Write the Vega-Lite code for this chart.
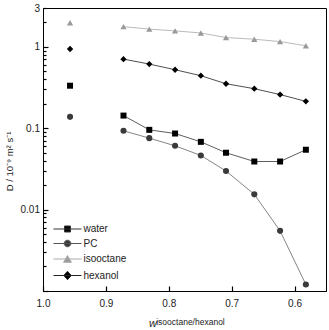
{
  "$schema": "https://vega.github.io/schema/vega-lite/v6.json",
  "autosize": "none",
  "width": 283,
  "height": 283,
  "padding": {"left": 43, "top": 8, "right": 3, "bottom": 39},
  "background": "#ffffff",
  "title": {"text": "w", "orient": "bottom", "anchor": "start", "frame": "group", "dx": 106, "dy": -12, "fontSize": 11, "fontStyle": "italic", "fontWeight": "normal", "font": "Arial, Liberation Sans, sans-serif", "color": "#222"},
  "config": {
    "view": {"stroke": "#000", "strokeWidth": 1},
    "font": "Arial, Liberation Sans, sans-serif",
    "axis": {"grid": false, "domainColor": "#000", "tickColor": "#000", "tickWidth": 1.2, "labelColor": "#222", "titleColor": "#222", "labelFont": "Arial, Liberation Sans, sans-serif", "titleFont": "Arial, Liberation Sans, sans-serif", "titleFontWeight": "normal"}
  },
  "data": {"values": [
    {"s": "water", "w": 0.957, "D": 0.333},
    {"s": "water", "w": 0.872, "D": 0.143},
    {"s": "water", "w": 0.831, "D": 0.0955},
    {"s": "water", "w": 0.790, "D": 0.0861},
    {"s": "water", "w": 0.749, "D": 0.068},
    {"s": "water", "w": 0.709, "D": 0.050},
    {"s": "water", "w": 0.664, "D": 0.039},
    {"s": "water", "w": 0.623, "D": 0.039},
    {"s": "water", "w": 0.582, "D": 0.0544},
    {"s": "PC", "w": 0.957, "D": 0.138},
    {"s": "PC", "w": 0.872, "D": 0.093},
    {"s": "PC", "w": 0.831, "D": 0.0755},
    {"s": "PC", "w": 0.790, "D": 0.0608},
    {"s": "PC", "w": 0.749, "D": 0.0463},
    {"s": "PC", "w": 0.709, "D": 0.0298},
    {"s": "PC", "w": 0.664, "D": 0.0154},
    {"s": "PC", "w": 0.623, "D": 0.00548},
    {"s": "PC", "w": 0.582, "D": 0.00120},
    {"s": "isooctane", "w": 0.957, "D": 1.98},
    {"s": "isooctane", "w": 0.872, "D": 1.77},
    {"s": "isooctane", "w": 0.831, "D": 1.65},
    {"s": "isooctane", "w": 0.790, "D": 1.57},
    {"s": "isooctane", "w": 0.749, "D": 1.48},
    {"s": "isooctane", "w": 0.709, "D": 1.30},
    {"s": "isooctane", "w": 0.664, "D": 1.24},
    {"s": "isooctane", "w": 0.623, "D": 1.16},
    {"s": "isooctane", "w": 0.582, "D": 1.03},
    {"s": "hexanol", "w": 0.957, "D": 0.94},
    {"s": "hexanol", "w": 0.872, "D": 0.706},
    {"s": "hexanol", "w": 0.831, "D": 0.614},
    {"s": "hexanol", "w": 0.790, "D": 0.523},
    {"s": "hexanol", "w": 0.749, "D": 0.442},
    {"s": "hexanol", "w": 0.709, "D": 0.352},
    {"s": "hexanol", "w": 0.664, "D": 0.306},
    {"s": "hexanol", "w": 0.623, "D": 0.259},
    {"s": "hexanol", "w": 0.582, "D": 0.214}
  ]},
  "layer": [
    {
      "transform": [{"filter": "datum.w < 0.9"}],
      "mark": {"type": "line", "strokeWidth": 0.8},
      "encoding": {
        "x": {"field": "w", "type": "quantitative",
          "scale": {"domain": [0.55, 1.0], "reverse": true, "nice": false, "zero": false},
          "axis": {"orient": "bottom", "values": [1.0, 0.9, 0.8, 0.7, 0.6], "format": ".1f", "ticks": false, "labelPadding": 7, "labelFontSize": 10, "labelFlush": false,
            "title": "isooctane/hexanol", "titleFontSize": 8.5, "titleX": 147, "titleY": 33, "titleBaseline": "alphabetic"}},
        "y": {"field": "D", "type": "quantitative",
          "scale": {"type": "log", "domain": [0.001, 3], "nice": false},
          "axis": {"orient": "left", "values": [0.01, 0.1, 1, 3], "labelExpr": "datum.value == 0.01 ? '0.01' : datum.value == 0.1 ? '0.1' : datum.value == 1 ? '1' : '3'",
            "ticks": false, "labelPadding": 3.5, "labelFontSize": 10,
            "title": "D / 10⁻⁹ m² s⁻¹", "titleFontSize": 9.5, "titleX": -29, "titleY": 153}},
        "color": {"field": "s", "type": "nominal", "scale": {"domain": ["water", "PC", "isooctane", "hexanol"], "range": ["#333333", "#666666", "#aaaaaa", "#222222"]}, "legend": null}
      }
    },
    {
      "mark": {"type": "point", "filled": true, "opacity": 1, "strokeWidth": 0},
      "encoding": {
        "x": {"field": "w", "type": "quantitative",
          "axis": {"orient": "top", "offset": -283, "values": [1.0, 0.9, 0.8, 0.7, 0.6], "labels": false, "domain": false, "title": null, "ticks": true, "tickSize": 5}},
        "y": {"field": "D", "type": "quantitative",
          "axis": {"orient": "right", "offset": -283, "values": [0.001,0.002,0.003,0.004,0.005,0.006,0.007,0.008,0.009,0.01,0.02,0.03,0.04,0.05,0.06,0.07,0.08,0.09,0.1,0.2,0.3,0.4,0.5,0.6,0.7,0.8,0.9,1,2,3],
            "labels": false, "domain": false, "title": null, "ticks": true,
            "tickSize": {"condition": {"test": "datum.value == 0.001 || datum.value == 0.01 || datum.value == 0.1 || datum.value == 1", "value": 5}, "value": 3}}},
        "color": {"field": "s", "type": "nominal", "scale": {"domain": ["water", "PC", "isooctane", "hexanol"], "range": ["#000000", "#3a3a3a", "#999999", "#000000"]}, "legend": null},
        "shape": {"field": "s", "type": "nominal", "scale": {"domain": ["water", "PC", "isooctane", "hexanol"], "range": ["square", "circle", "triangle-up", "diamond"]}, "legend": null},
        "size": {"field": "s", "type": "nominal", "scale": {"domain": ["water", "PC", "isooctane", "hexanol"], "range": [36, 40, 56, 60]}, "legend": null}
      }
    },
    {
      "transform": [{"filter": "datum.w > 5"}],
      "mark": {"type": "point", "filled": true, "strokeWidth": 1, "size": 36},
      "encoding": {
        "x": {"field": "w", "type": "quantitative", "axis": null},
        "y": {"field": "D", "type": "quantitative", "axis": null},
        "fill": {"field": "s", "type": "nominal", "scale": {"domain": ["water", "PC", "isooctane", "hexanol"], "range": ["#000000", "#3a3a3a", "#999999", "#000000"]},
          "legend": {"orient": "none", "legendX": 19.5, "legendY": 216, "title": null, "symbolSize": 36, "symbolStrokeWidth": 1, "symbolOpacity": 1, "labelFontSize": 10, "labelFont": "Arial, Liberation Sans, sans-serif", "labelColor": "#222", "labelOffset": 11, "rowPadding": 3.5, "padding": 0}},
        "stroke": {"field": "s", "type": "nominal", "scale": {"domain": ["water", "PC", "isooctane", "hexanol"], "range": ["#333333", "#555555", "#aaaaaa", "#222222"]},
          "legend": {"orient": "none", "legendX": 19.5, "legendY": 216, "title": null, "symbolSize": 36, "symbolStrokeWidth": 1, "symbolOpacity": 1, "labelFontSize": 10, "labelFont": "Arial, Liberation Sans, sans-serif", "labelColor": "#222", "labelOffset": 11, "rowPadding": 3.5, "padding": 0}},
        "shape": {"field": "s", "type": "nominal", "scale": {"domain": ["water", "PC", "isooctane", "hexanol"], "range": [
          "M-4.67,0H4.67M-1,-1H1V1H-1Z",
          "M-4.67,0H4.67M1.1,0A1.1,1.1,0,1,1,-1.1,0A1.1,1.1,0,1,1,1.1,0Z",
          "M-4.67,0H4.67M0,-1.15L1.3,1.1L-1.3,1.1Z",
          "M-4.67,0H4.67M0,-1.4L1.25,0L0,1.4L-1.25,0Z"]},
          "legend": {"orient": "none", "legendX": 19.5, "legendY": 216, "title": null, "symbolSize": 36, "symbolStrokeWidth": 1, "symbolOpacity": 1, "labelFontSize": 10, "labelFont": "Arial, Liberation Sans, sans-serif", "labelColor": "#222", "labelOffset": 11, "rowPadding": 3.5, "padding": 0}}
      }
    }
  ],
  "resolve": {"scale": {"color": "independent", "shape": "independent", "fill": "independent", "stroke": "independent"}, "axis": {"x": "independent", "y": "independent"}, "legend": {"color": "independent", "shape": "independent", "fill": "independent", "stroke": "independent"}}
}
